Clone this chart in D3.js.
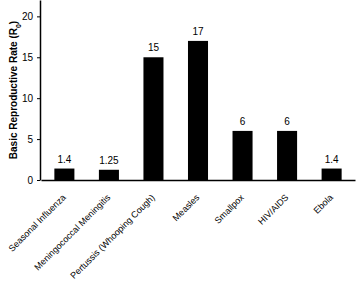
<!DOCTYPE html>
<html>
<head>
<style>
  body { margin: 0; background: #fff; }
  svg { display: block; font-family: "Liberation Sans", Arial, sans-serif; }
</style>
</head>
<body>
<div id="chart"></div>
<script src="https://d3js.org/d3.v7.min.js"></script>
<script>
// data
var diseases = ["Seasonal Influenza", "Meningococcal Meningitis", "Pertussis (Whooping Cough)",
                "Measles", "Smallpox", "HIV/AIDS", "Ebola"];
var r0Values = [1.4, 1.25, 15, 17, 6, 6, 1.4];
var valueLabels = ["1.4", "1.25", "15", "17", "6", "6", "1.4"];
var yTicks = [0, 5, 10, 15, 20];

var W = 356, H = 285;
var margin = {top: 0, right: 1, bottom: 105, left: 40};
var width = W - margin.left - margin.right;
var height = 180;

var svg = d3.select("#chart").append("svg")
    .attr("width", W)
    .attr("height", H);

var g = svg.append("g").attr("transform", "translate(" + margin.left + "," + margin.top + ")");

var x = d3.scaleBand()
    .domain(diseases)
    .range([1, width])
    .paddingInner(0.55)
    .paddingOuter(0.3);

var y = d3.scaleLinear()
    .domain([0, 22])
    .range([height, 0]);

// bars
g.selectAll("rect.bar")
  .data(r0Values)
  .enter().append("rect")
    .attr("class", "bar")
    .attr("x", function(d, i) { return x(diseases[i]); })
    .attr("y", function(d) { return y(d); })
    .attr("width", x.bandwidth())
    .attr("height", function(d) { return height - y(d); })
    .attr("fill", "#000");

// value labels
g.selectAll("text.val")
  .data(r0Values)
  .enter().append("text")
    .attr("class", "val")
    .attr("x", function(d, i) { return x(diseases[i]) + x.bandwidth() / 2; })
    .attr("y", function(d) { return y(d) - 6; })
    .attr("text-anchor", "middle")
    .style("font-size", "10px")
    .text(function(d, i) { return valueLabels[i]; });

// y axis
var yAxis = g.append("g")
    .call(d3.axisLeft(y).tickValues(yTicks).tickSize(3).tickPadding(4).tickSizeOuter(0));
yAxis.select(".domain").attr("stroke-width", 1.5);
yAxis.selectAll("text").style("font-size", "10px").attr("fill", "#000");

// x axis (line only)
var xAxis = g.append("g")
    .attr("transform", "translate(0," + height + ")")
    .call(d3.axisBottom(x).tickSize(0));
xAxis.select(".domain").attr("stroke-width", 1.5);
xAxis.selectAll("text")
    .style("font-size", "9px")
    .attr("fill", "#000")
    .attr("text-anchor", "end")
    .attr("y", 0)
    .attr("dy", 0)
    .attr("transform", "translate(2,18) rotate(-45)");

// y title
var title = svg.append("text")
    .attr("transform", "translate(17," + 90 + ") rotate(-90)")
    .attr("text-anchor", "middle")
    .style("font-size", "10px")
    .style("font-weight", "bold");
title.append("tspan").text("Basic Reproductive Rate (R");
title.append("tspan").attr("baseline-shift", "sub").style("font-size", "7px").text("0");
title.append("tspan").text(")");
</script>
</body>
</html>
